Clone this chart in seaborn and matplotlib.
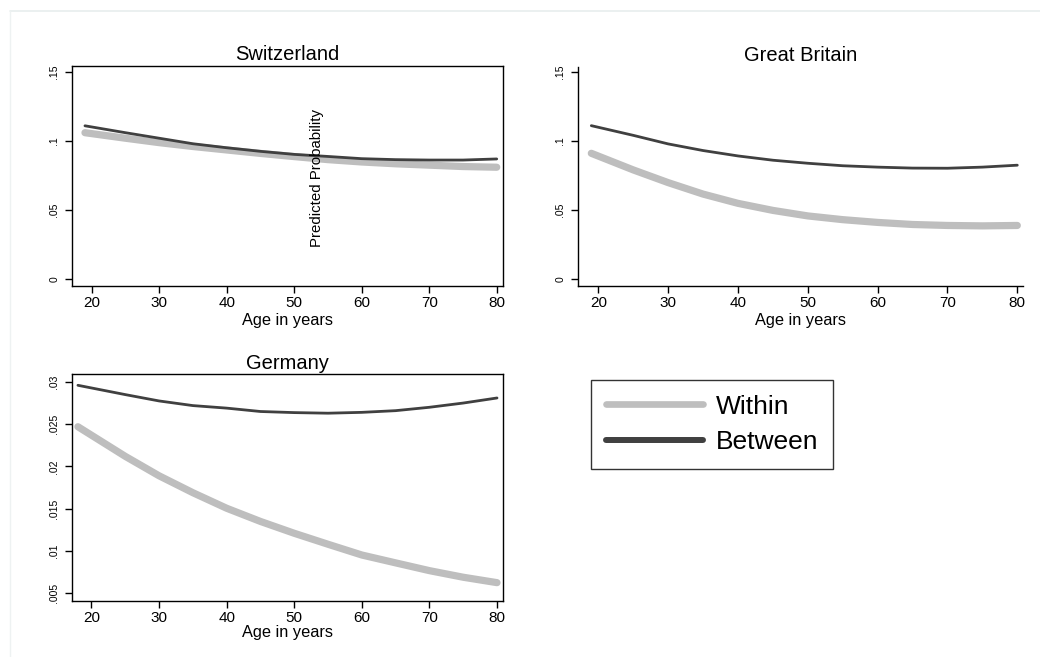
import matplotlib
matplotlib.use("Agg")
import matplotlib.pyplot as plt
from matplotlib.lines import Line2D
import seaborn as sns
import pandas as pd

# ---- data ----
ages_ch = [19, 25, 30, 35, 40, 45, 50, 55, 60, 65, 70, 75, 80]
ch_within = [0.106, 0.102, 0.0988, 0.096, 0.0935, 0.091, 0.0887, 0.0865, 0.0848, 0.0835, 0.0825, 0.0815, 0.081]
ch_between = [0.111, 0.106, 0.102, 0.098, 0.0951, 0.0925, 0.0903, 0.0888, 0.0872, 0.0865, 0.0862, 0.0862, 0.087]

ages_gb = [19, 25, 30, 35, 40, 45, 50, 55, 60, 65, 70, 75, 80]
gb_within = [0.091, 0.079, 0.0698, 0.0615, 0.0548, 0.0497, 0.0457, 0.043, 0.041, 0.0395, 0.0388, 0.0385, 0.0388]
gb_between = [0.111, 0.104, 0.0978, 0.093, 0.0891, 0.086, 0.0838, 0.082, 0.081, 0.0803, 0.0802, 0.081, 0.0824]

ages_de = [18, 25, 30, 35, 40, 45, 50, 55, 60, 65, 70, 75, 80]
de_within = [0.0247, 0.0212, 0.0189, 0.0169, 0.01506, 0.0135, 0.0121, 0.0108, 0.00953, 0.0086, 0.00768, 0.0069, 0.00626]
de_between = [0.0296, 0.0285, 0.02775, 0.0272, 0.0269, 0.0265, 0.02637, 0.0263, 0.0264, 0.0266, 0.0270, 0.0275, 0.0281]

x_ticks = [20, 30, 40, 50, 60, 70, 80]
y_ticks_top = [0, 0.05, 0.1, 0.15]
y_labels_top = ["0", ".05", ".1", ".15"]
y_ticks_de = [0.005, 0.01, 0.015, 0.02, 0.025, 0.03]
y_labels_de = [".005", ".01", ".015", ".02", ".025", ".03"]
series_names = ["Within", "Between"]

# ---- style ----
sns.set_theme(style="white")
plt.rcParams["font.family"] = ["Liberation Sans", "DejaVu Sans"]
plt.rcParams["text.color"] = "black"
plt.rcParams["axes.labelcolor"] = "black"
plt.rcParams["xtick.color"] = "black"
plt.rcParams["ytick.color"] = "black"

C_WITHIN = "#bebebe"
C_BETWEEN = "#404040"

fig = plt.figure(figsize=(10.4, 6.57), dpi=100)

def H(px):
    return 1 - px / 657.0

def W(px):
    return px / 1040.0

ax1 = fig.add_axes([W(72), H(286), W(503 - 72), H(66) - H(286)])
ax2 = fig.add_axes([W(577.7), H(286), W(1023.3 - 577.7), H(66.5) - H(286)])
ax3 = fig.add_axes([W(71.7), H(601), W(503.3 - 71.7), H(374.3) - H(601)])

def make_df(ages, w, b):
    return pd.DataFrame({
        "age": list(ages) * 2,
        "p": list(w) + list(b),
        "series": [series_names[0]] * len(ages) + [series_names[1]] * len(ages),
    })

panels = [
    (ax1, "Switzerland", ages_ch, ch_within, ch_between, (17.08, 80.93), (-0.005, 0.1543), y_ticks_top, y_labels_top, True, 2),
    (ax2, "Great Britain", ages_gb, gb_within, gb_between, (17.05, 80.86), (-0.005, 0.1538), y_ticks_top, y_labels_top, False, 2),
    (ax3, "Germany", ages_de, de_within, de_between, (17.08, 80.93), (0.00409, 0.0309), y_ticks_de, y_labels_de, True, 0),
]

for ax, title, ages, w, b, xl, yl, yt, ytl, frame, lpad in panels:
    df = make_df(ages, w, b)
    sns.lineplot(data=df[df.series == "Within"], x="age", y="p", ax=ax,
                 color=C_WITHIN, linewidth=5.2, legend=False)
    sns.lineplot(data=df[df.series == "Between"], x="age", y="p", ax=ax,
                 color=C_BETWEEN, linewidth=2.0, legend=False)
    ax.set_xlim(*xl)
    ax.set_ylim(*yl)
    ax.set_xticks(x_ticks)
    ax.set_xticklabels([str(t) for t in x_ticks], fontsize=11)
    ax.set_yticks(yt)
    ax.set_yticklabels(ytl, fontsize=7.5, rotation=90, va="center")
    ax.tick_params(axis="both", which="both", direction="out", length=5, width=1,
                   color="black", bottom=True, left=True)
    ax.tick_params(axis="x", pad=2)
    ax.tick_params(axis="y", pad=4)
    ax.set_xlabel("Age in years", fontsize=11.8, labelpad=lpad)
    ax.set_ylabel("")
    ax.set_title(title, fontsize=14.5, pad=4, color="black")
    ax.set_facecolor("white")
    for s in ["left", "bottom", "top", "right"]:
        ax.spines[s].set_color("black")
        ax.spines[s].set_linewidth(1.0)
    if not frame:
        ax.spines["top"].set_visible(False)
        ax.spines["right"].set_visible(False)
    ax.grid(False)

# misplaced y-axis title as in the reference
fig.text(W(317), H(178), "Predicted Probability", rotation=90, fontsize=10.8,
         ha="center", va="center", color="black")

# legend
handles = [Line2D([0], [0], color=C_WITHIN, linewidth=4.8),
           Line2D([0], [0], color=C_BETWEEN, linewidth=4.3)]
leg = fig.legend(handles, series_names, loc="upper left",
                 bbox_to_anchor=(W(591), H(380)), fontsize=19,
                 frameon=True, fancybox=False, handlelength=3.7,
                 handletextpad=0.5, borderpad=0.55, labelspacing=0.45,
                 borderaxespad=0)
leg.get_frame().set_edgecolor("black")
leg.get_frame().set_linewidth(1.0)
for t in leg.get_texts():
    t.set_color("black")

# faint outer frame
fig.add_artist(Line2D([W(10), 1], [H(11), H(11)], color="#e8eeee", linewidth=1.2, transform=fig.transFigure))
fig.add_artist(Line2D([W(10), W(10)], [H(11), 0], color="#eef2f2", linewidth=1.0, transform=fig.transFigure))

fig.savefig("out.png", dpi=100, facecolor="white")
